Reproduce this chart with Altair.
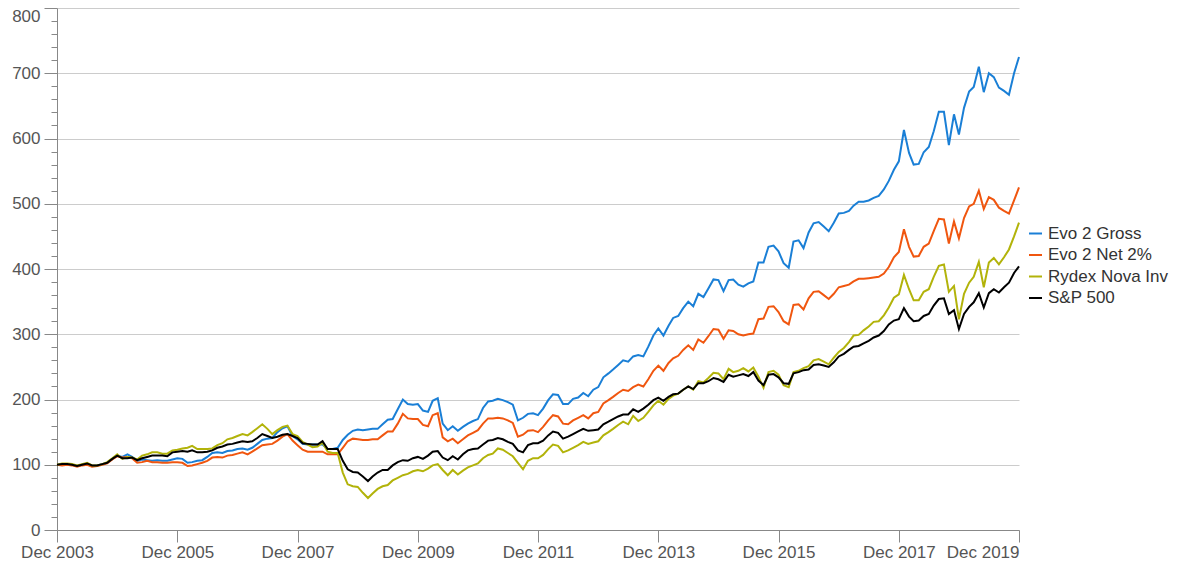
import altair as alt
import pandas as pd

series_names = ["Evo 2 Gross", "Evo 2 Net 2%", "Rydex Nova Inv", "S&P 500"]
series_colors = ["#1a7fd6", "#f0560f", "#b2b30a", "#000000"]
start_month = "2003-12-01"
x_tick_years = [2003, 2005, 2007, 2009, 2011, 2013, 2015, 2017, 2019]

evo_gross = [
    100, 100, 101, 100, 98, 100, 101, 98, 99, 101, 103, 109, 114,
    112, 116, 112, 106, 108, 107, 106, 107, 106, 106, 108, 110,
    109, 103, 104, 106, 107, 112, 118, 119, 118, 121, 122,
    124, 125, 123, 126, 132, 138, 140, 141, 150, 156, 159, 144, 139,
    132, 131, 131, 131, 131, 124, 124, 126, 138, 146, 152, 154,
    153, 154, 155, 155, 162, 169, 170, 185, 200, 193, 192, 193,
    183, 181, 198, 202, 163, 153, 159, 152, 158, 163, 167, 170,
    187, 197, 198, 201, 199, 196, 192, 168, 172, 178, 179, 176,
    186, 199, 208, 207, 193, 193, 201, 203, 210, 205, 215, 219,
    234, 240, 246, 253, 260, 258, 266, 268, 266, 281, 298, 309,
    298, 313, 325, 328, 340, 350, 343, 362, 357, 370, 384, 383,
    366, 383, 384, 376, 373, 378, 381, 410, 410, 434, 436, 427,
    409, 402, 442, 444, 432, 456, 470, 472, 465, 458, 471, 485,
    486, 489, 497, 503, 503, 505, 509, 512, 522, 535, 552, 565,
    613, 578, 560, 561, 579, 587, 611, 641, 641, 590, 637, 606,
    647, 672, 679, 710, 671, 700, 694, 678, 673, 667, 700, 725,
]

evo_net = [
    100, 99, 100, 99, 97, 99, 100, 97, 98, 100, 102, 108, 113,
    111, 112, 110, 103, 104, 106, 104, 104, 103, 103, 104, 104,
    103, 98, 99, 101, 103, 106, 111, 112, 111, 114, 115,
    117, 119, 116, 120, 125, 130, 131, 132, 137, 143, 147, 137, 130,
    123, 120, 120, 120, 120, 116, 116, 116, 126, 136, 140, 139,
    138, 138, 139, 139, 145, 151, 151, 163, 178, 171, 170, 170,
    161, 159, 176, 179, 142, 136, 140, 133, 139, 145, 149, 153,
    163, 171, 171, 172, 171, 168, 164, 143, 146, 152, 153, 150,
    158, 168, 176, 174, 163, 162, 168, 172, 176, 171, 179, 181,
    194, 199, 204, 210, 215, 213, 219, 223, 220, 231, 244, 252,
    244, 256, 263, 267, 276, 283, 276, 292, 287, 297, 308, 307,
    293, 306, 305, 300, 298, 300, 301, 323, 324, 342, 343, 334,
    320, 315, 345, 346, 338, 355, 365, 366, 360, 354, 362, 372,
    374, 376, 381, 385, 385, 386, 387, 388, 393, 403, 418, 426,
    461, 434, 419, 420, 434, 439, 458, 477, 476, 439, 473, 447,
    478, 496, 500, 520, 492, 510, 506, 494, 489, 485, 505, 525,
]

rydex_nova = [
    100, 102, 102, 101, 99, 101, 103, 99, 99, 101, 104, 110, 116,
    109, 112, 111, 108, 114, 116, 119, 119, 117, 117, 122, 123,
    125, 126, 129, 124, 124, 124, 125, 130, 133, 139, 141,
    144, 147, 145, 150, 156, 162, 155, 147, 153, 158, 160, 147, 144,
    135, 131, 127, 128, 134, 120, 118, 118, 88, 70, 67, 66,
    57, 49, 56, 63, 67, 69, 76, 80, 84, 86, 90, 92,
    90, 94, 99, 101, 92, 84, 92, 85, 91, 96, 99, 102,
    110, 115, 117, 125, 123, 118, 113, 103, 93, 106, 110, 110,
    115, 124, 131, 129, 119, 122, 126, 130, 135, 132, 134, 136,
    145, 150, 155, 161, 166, 162, 175, 167, 172, 181, 191, 198,
    192, 201, 206, 209, 215, 220, 215, 228, 226, 233, 241, 240,
    231, 247, 242, 244, 248, 243, 249, 235, 218, 242, 244, 238,
    222, 219, 242, 244, 248, 251, 260, 262, 258, 254, 264, 273,
    279, 288, 298, 299, 306, 312, 319, 320, 329, 341, 356, 361,
    391, 369, 352, 352, 365, 369, 388, 405, 407, 365, 374, 323,
    362, 379, 388, 411, 372, 410, 417, 407, 418, 430, 450, 471,
]

sp500 = [
    100, 101, 101, 100, 98, 100, 102, 99, 99, 101, 103, 109, 114,
    110, 110, 111, 107, 110, 112, 114, 114, 114, 113, 119, 120,
    121, 120, 122, 119, 119, 120, 122, 126, 128, 131, 132,
    134, 136, 135, 136, 141, 147, 144, 141, 143, 146, 147, 144, 141,
    133, 132, 131, 131, 136, 124, 124, 124, 106, 93, 89, 88,
    82, 75, 82, 88, 92, 92, 99, 104, 107, 106, 110, 112,
    109, 114, 120, 121, 111, 107, 113, 108, 116, 122, 124, 125,
    131, 137, 138, 141, 139, 135, 132, 122, 119, 130, 133, 133,
    137, 145, 151, 149, 140, 143, 147, 151, 155, 152, 153, 154,
    162, 166, 170, 174, 177, 177, 185, 181, 186, 192, 199, 203,
    198, 204, 208, 209, 215, 220, 216, 225, 225, 228, 233, 231,
    227, 238, 235, 237, 239, 236, 242, 229, 222, 238, 239, 234,
    225, 224, 240, 242, 245, 246, 253, 254, 252, 250, 257, 266,
    270, 276, 281, 282, 286, 290, 295, 298, 305, 315, 321, 323,
    340, 327, 320, 321, 328, 331, 344, 354, 355, 331, 337, 308,
    331, 342, 349, 363, 341, 363, 369, 364, 372, 379, 394, 404,
]

dates = pd.date_range(start_month, periods=len(evo_gross), freq="MS").strftime("%Y-%m-%d")
wide = pd.DataFrame({
    "date": dates,
    series_names[0]: evo_gross,
    series_names[1]: evo_net,
    series_names[2]: rydex_nova,
    series_names[3]: sp500,
})
df = wide.melt(id_vars="date", var_name="series", value_name="value")
df["order"] = df["series"].map({n: i for i, n in enumerate(series_names)})

FONT = "Liberation Sans"
FS = 17
major = "datum.value % 100 === 0"

x_enc = alt.X(
    "date:T",
    scale=alt.Scale(
        type="utc",
        domain=[alt.DateTime(year=2003, month=12, date=1, utc=True),
                alt.DateTime(year=2019, month=12, date=1, utc=True)],
        nice=False,
    ),
    axis=alt.Axis(
        title=None,
        values=[alt.DateTime(year=y, month=12, date=1, utc=True) for y in x_tick_years],
        labelExpr="utcFormat(datum.value, '%b %Y')",
        labelFlush=False,
        labelAlign={"condition": {"test": "utcyear(datum.value) === 2019", "value": "right"},
                    "value": "center"},
        grid=False,
        tickSize=12,
        labelPadding=2,
        labelFontSize=FS,
        labelColor="#555555",
        labelFont=FONT,
        domainColor="#888888",
        tickColor="#888888",
        labelOverlap=False,
    ),
)

y_enc = alt.Y(
    "value:Q",
    scale=alt.Scale(domain=[0, 800], nice=False),
    axis=alt.Axis(
        title=None,
        values=list(range(0, 801, 20)),
        labelExpr="datum.value % 100 === 0 ? datum.label : ''",
        tickSize={"condition": {"test": major, "value": 13}, "value": 6},
        gridOpacity={"condition": {"test": major, "value": 1}, "value": 0},
        labelBaseline={"condition": {"test": "datum.value === 800", "value": "top"}, "value": "middle"},
        gridColor="#cccccc",
        domainColor="#888888",
        tickColor="#888888",
        labelPadding=4,
        labelFontSize=FS,
        labelColor="#555555",
        labelFont=FONT,
    ),
)

chart = (
    alt.Chart(df)
    .mark_line(strokeWidth=2)
    .encode(
        x=x_enc,
        y=y_enc,
        color=alt.Color(
            "series:N",
            scale=alt.Scale(domain=series_names, range=series_colors),
            legend=alt.Legend(
                title=None,
                orient="none",
                legendX=970,
                legendY=217,
                symbolType="stroke",
                symbolSize=169,
                symbolStrokeWidth=2,
                labelFontSize=FS,
                labelFont=FONT,
                labelColor="#333333",
                labelOffset=4,
                rowPadding=3.5,
                padding=0,
            ),
        ),
        order=alt.Order("order:Q"),
    )
    .properties(
        width=962,
        height=522,
        autosize=alt.AutoSizeParams(type="none"),
        padding={"left": 49, "top": 0, "right": 174, "bottom": 35},
    )
    .configure_view(strokeWidth=0)
)

chart.save("out.html", embed_options={"renderer": "svg", "actions": False})
